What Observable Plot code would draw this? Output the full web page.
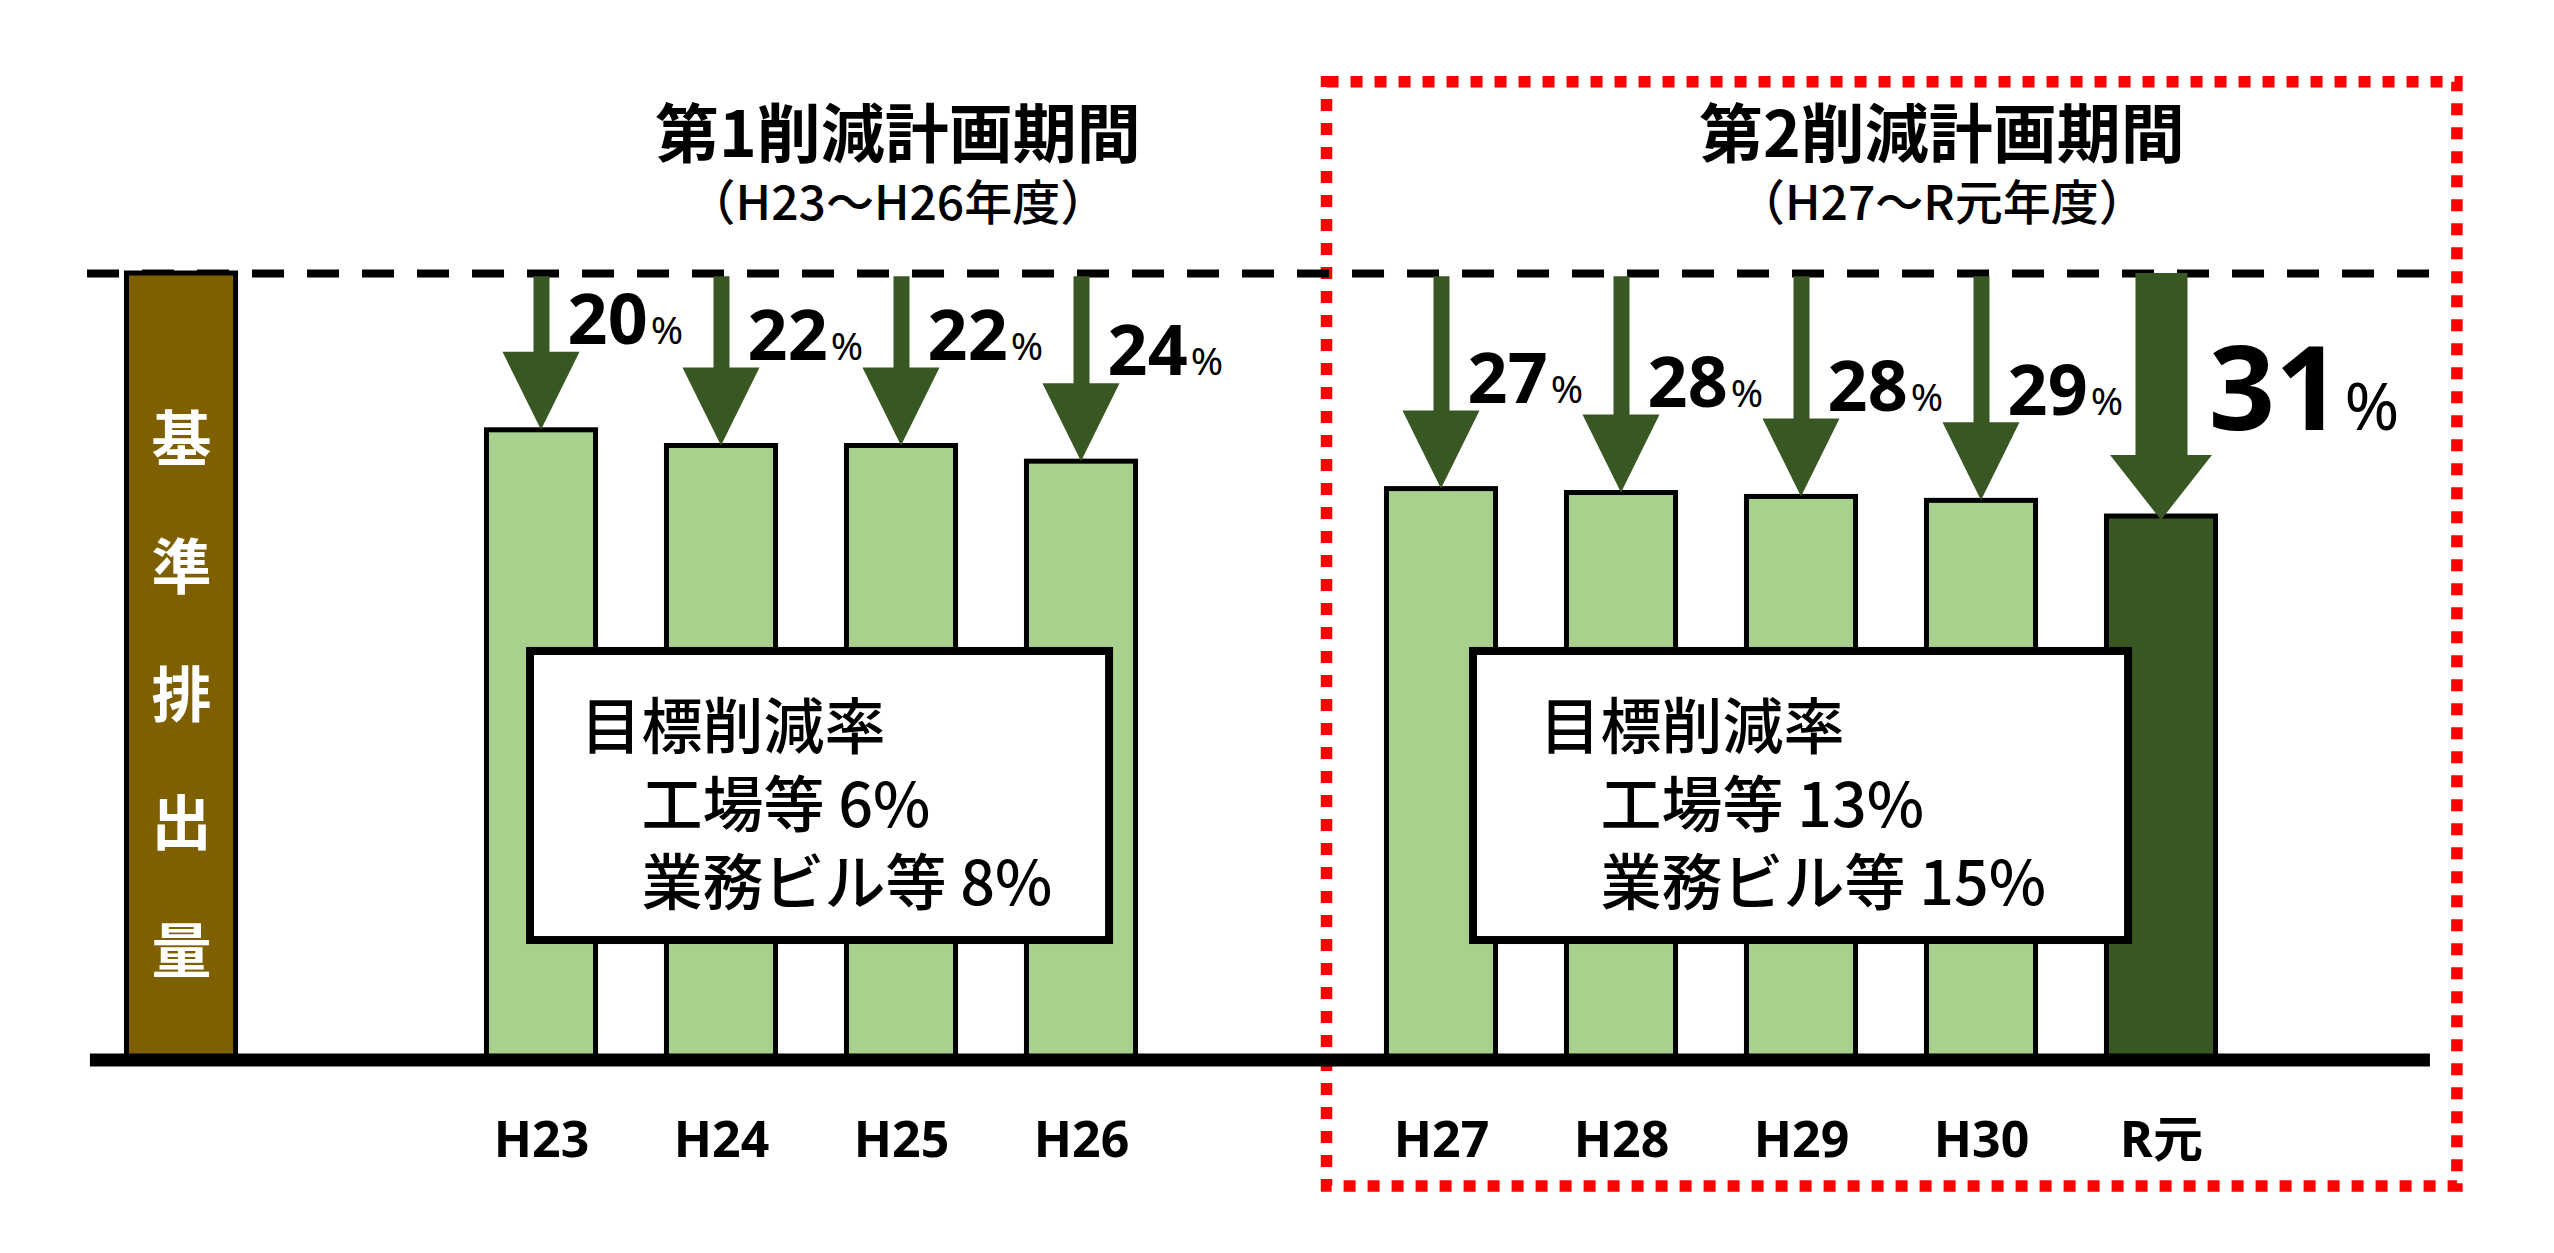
<!DOCTYPE html>
<html>
<head>
<meta charset="utf-8">
<script src="https://cdn.jsdelivr.net/npm/d3@7"></script>
<script src="https://cdn.jsdelivr.net/npm/@observablehq/plot@0.6"></script>
<style>
  html, body { margin: 0; padding: 0; background: #ffffff; }
  #chart svg { display: block; }
</style>
</head>
<body>
<div id="chart"></div>
<script>
// ---------------- data ----------------
const categories = ["H23", "H24", "H25", "H26", "H27", "H28", "H29", "H30", "R元"];
const emissions  = [80, 78, 78, 76, 72.5, 72, 71.5, 71, 69];   // relative to base = 100
const reductions = [20, 22, 22, 24, 27, 28, 28, 29, 31];        // %
const periods    = [1, 1, 1, 1, 2, 2, 2, 2, 2];
const baseLabel  = "基準排出量";
const baseValue  = 100;
const periodTitles    = ["第1削減計画期間", "第2削減計画期間"];
const periodSubtitles = ["（H23～H26年度）", "（H27～R元年度）"];
const targetHeading = "目標削減率";
const targetLabels  = ["工場等", "業務ビル等"];
const targetsPeriod1 = [6, 8];
const targetsPeriod2 = [13, 15];

// ---------------- layout / style ----------------
const W = 2554, H = 1253;
const C = {
  brown: "#7F6000", light: "#A9D18E", dark: "#385723", red: "#FF0000"
};
const FONT_JP = "'Noto Sans CJK JP', 'Noto Sans', sans-serif";
const FONT_NUM = "'Noto Sans', 'Noto Sans CJK JP', sans-serif";

const bars = categories.map((c, i) => ({
  name: c,
  value: emissions[i],
  reduction: reductions[i],
  period: periods[i],
  slot: i + (periods[i] === 1 ? 2 : 3),
  highlight: i === categories.length - 1
}));
const baseBar = {name: baseLabel, value: baseValue, slot: 0};
const halfBar = 0.303;

const arrowGeom = d => d.highlight
  ? {hw: 0.283, hl: 8.3, sw: 52, tip: d.value - 0.5}
  : {hw: 0.214, hl: 9.95, sw: 16, tip: d.value};

const heads = bars.flatMap(d => {
  const g = arrowGeom(d);
  const top = g.tip + g.hl;
  return [
    {slot: d.slot, x: d.slot - g.hw, y1: top, y2: top},
    {slot: d.slot, x: d.slot, y1: g.tip, y2: top},
    {slot: d.slot, x: d.slot + g.hw, y1: top, y2: top}
  ];
});

const titles = periodTitles.map((t, i) => ({text: t, sub: periodSubtitles[i], x: [3.98, 9.78][i]}));

const noteText = t => `${targetHeading}\n\u3000${targetLabels[0]} ${t[0]}%\n\u3000${targetLabels[1]} ${t[1]}%`;
const notes = [
  {x1: 1.939, x2: 5.156, tx: 2.217, text: noteText(targetsPeriod1)},
  {x1: 7.178, x2: 10.817, tx: 7.544, text: noteText(targetsPeriod2)}
];

const slotName = new Map(bars.map(d => [d.slot, d.name]));

const chart = Plot.plot({
  width: W,
  height: H,
  marginLeft: 0, marginRight: 0, marginTop: 0, marginBottom: 196,
  style: {fontFamily: FONT_JP, background: "#ffffff"},
  x: {domain: [-181 / 180, (W - 181) / 180], axis: null},
  y: {domain: [0, 1057 / 7.84], axis: null},
  marks: [
    // second-period frame
    Plot.rect([{x1: 6.364, x2: 12.644, y1: -16.45, y2: 124.4}], {
      x1: "x1", x2: "x2", y1: "y1", y2: "y2",
      fill: "none", stroke: C.red, strokeWidth: 11.5, strokeDasharray: "12 12"
    }),
    // base reference dashed line
    Plot.ruleY([{y: baseValue, x1: -0.522, x2: 12.567}], {
      y: "y", x1: "x1", x2: "x2",
      stroke: "#000", strokeWidth: 8, strokeDasharray: "32 23"
    }),
    // base bar
    Plot.rect([baseBar], {
      x1: d => d.slot - halfBar, x2: d => d.slot + halfBar, y1: d => 0, y2: "value",
      fill: C.brown, stroke: "#000", strokeWidth: 5
    }),
    // yearly bars
    Plot.rect(bars, {
      x1: d => d.slot - halfBar, x2: d => d.slot + halfBar, y1: d => 0, y2: "value",
      fill: d => d.highlight ? C.dark : C.light, stroke: "#000", strokeWidth: 5
    }),
    // baseline
    Plot.ruleY([{y: 0, x1: -0.506, x2: 12.494}], {
      y: "y", x1: "x1", x2: "x2", stroke: "#000", strokeWidth: 13, dy: 2.5
    }),
    // arrow shafts
    Plot.ruleX(bars, {
      x: "slot",
      y1: d => baseValue - (d.highlight ? 0 : 0.4),
      y2: d => { const g = arrowGeom(d); return g.tip + g.hl - 0.3; },
      stroke: C.dark,
      strokeWidth: d => arrowGeom(d).sw
    }),
    // arrow heads
    Plot.areaY(heads, {x: "x", y1: "y1", y2: "y2", z: "slot", fill: C.dark}),
    // vertical label in base bar
    Plot.text([baseBar], {
      x: "slot", y: d => 10.8,
      text: d => d.name.split("").join("\n"),
      lineAnchor: "bottom", lineHeight: 2.133,
      fill: "#fff", fontSize: 60, fontWeight: "bold", fontFamily: FONT_JP
    }),
    // reduction labels: digits
    Plot.text(bars, {
      x: d => d.slot + (d.highlight ? 1.0 : 0.59),
      y: d => d.value + 11,
      text: d => String(d.reduction),
      textAnchor: "end", lineAnchor: "bottom",
      fontSize: d => d.highlight ? 116 : 70,
      fontWeight: "bold", fontFamily: FONT_NUM, fill: "#000"
    }),
    // reduction labels: percent sign
    Plot.text(bars, {
      x: d => d.slot + (d.highlight ? 1.0 : 0.59),
      y: d => d.value + 11,
      text: d => "%",
      textAnchor: "start", lineAnchor: "bottom", dx: 3,
      fontSize: d => d.highlight ? 66 : 39,
      fontWeight: "normal", fontFamily: FONT_NUM, fill: "#000"
    }),
    // target boxes
    Plot.rect(notes, {
      x1: "x1", x2: "x2", y1: d => 14.92, y2: d => 51.79,
      fill: "#fff", stroke: "#000", strokeWidth: 8
    }),
    Plot.text(notes, {
      x: "tx", y: d => 19.4, text: "text",
      textAnchor: "start", lineAnchor: "bottom", lineHeight: 1.279,
      fontSize: 61, fontWeight: 500, fontFamily: FONT_JP, fill: "#000"
    }),
    // period titles
    Plot.text(titles, {
      x: "x", y: d => 114.8, text: "text",
      lineAnchor: "bottom", fontSize: 64, fontWeight: "bold", fontFamily: FONT_JP, fill: "#000"
    }),
    Plot.text(titles, {
      x: "x", y: d => 106.8, text: "sub",
      lineAnchor: "bottom", fontSize: 48, fontWeight: 500, fontFamily: FONT_JP, fill: "#000"
    }),
    // category axis
    Plot.axisX(bars.map(d => d.slot), {
      anchor: "bottom",
      tickSize: 0, tickPadding: 64,
      tickFormat: v => slotName.get(v),
      fontSize: 50, fontWeight: "bold", fontFamily: FONT_NUM,
      label: null
    })
  ]
});

document.getElementById("chart").appendChild(chart);
</script>
</body>
</html>
